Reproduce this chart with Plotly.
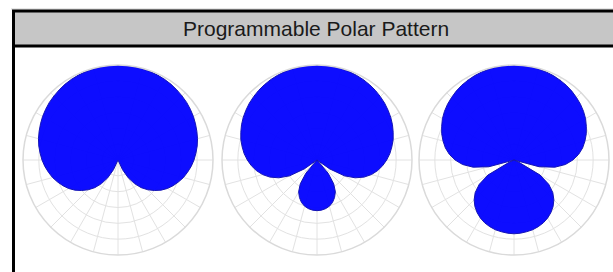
import plotly.graph_objects as go

W, H = 613, 272

# Half-pattern angles (degrees from front, symmetric patterns)
angles_half = [0, 5, 10, 15, 20, 25, 30, 35, 40, 45, 50, 55, 60, 65, 70, 75, 80, 85, 90,
               95, 100, 105, 110, 115, 120, 125, 130, 135, 140, 145, 150, 155, 160, 165, 170, 175, 180]

# Level in dB (floor -30 dB)
cardioid_db = [0.0, -0.0, -0.1, -0.2, -0.3, -0.4, -0.6, -0.8, -1.1, -1.4, -1.7, -2.1, -2.5, -3.0, -3.5, -4.0, -4.6, -5.3, -6.0,
               -6.8, -7.7, -8.6, -9.7, -10.8, -12.0, -13.4, -15.0, -16.7, -18.6, -20.9, -23.5, -26.6, -30.0, -30.0, -30.0, -30.0, -30.0]
supercardioid_db = [0.0, -0.0, -0.1, -0.2, -0.3, -0.5, -0.7, -1.0, -1.3, -1.7, -2.1, -2.6, -3.1, -3.7, -4.4, -5.1, -6.0, -6.9, -8.0,
                    -9.2, -10.6, -12.2, -14.2, -16.7, -20.0, -25.1, -30.0, -30.0, -24.5, -20.8, -18.4, -16.9, -15.7, -14.9, -14.4, -14.1, -14.0]
hypercardioid_db = [0.0, -0.0, -0.1, -0.2, -0.4, -0.6, -0.9, -1.2, -1.6, -2.1, -2.6, -3.2, -3.9, -4.8, -5.7, -6.8, -8.0, -9.5, -11.4,
                    -13.7, -16.9, -21.8, -30.0, -28.3, -20.5, -16.6, -14.0, -12.2, -10.8, -9.7, -8.8, -8.1, -7.6, -7.2, -7.0, -6.8, -6.7]

patterns = [cardioid_db, supercardioid_db, hypercardioid_db]
title_text = "Programmable Polar Pattern"

def full(half_vals):
    return half_vals + half_vals[-2::-1]

theta_full = angles_half + [360 - a for a in angles_half[-2::-1]]

# Layout geometry (pixels)
centers_x = [118, 317, 514]
center_y = 160
radius = 95

fig = go.Figure()
layout_polars = {}
for i, vals in enumerate(patterns):
    name = "polar" if i == 0 else f"polar{i+1}"
    fig.add_trace(go.Scatterpolar(
        r=full(vals), theta=theta_full, mode="lines", fill="toself",
        fillcolor="rgba(0,0,255,0.95)", line=dict(color="#1414b4", width=1),
        subplot=name, showlegend=False, hoverinfo="skip"))
    cx = centers_x[i]
    layout_polars[name] = dict(
        domain=dict(x=[(cx - radius) / W, (cx + radius) / W],
                    y=[1 - (center_y + radius) / H, 1 - (center_y - radius) / H]),
        bgcolor="white",
        radialaxis=dict(range=[-30, 0], dtick=5, showticklabels=False, ticks="",
                        showline=False, gridcolor="#e2e2e2", gridwidth=1.3),
        angularaxis=dict(rotation=90, direction="clockwise", dtick=15,
                         showticklabels=False, ticks="", gridcolor="#e2e2e2", gridwidth=1.3,
                         linecolor="#dadada", linewidth=1.5),
    )

fig.update_layout(width=W, height=H, margin=dict(l=0, r=0, t=0, b=0),
                  paper_bgcolor="white", plot_bgcolor="white", **layout_polars)

def px(x):
    return x / W

def py(y):
    return 1 - y / H

fig.add_shape(type="line", xref="paper", yref="paper", x0=px(11), x1=1.1, y0=py(9), y1=py(9),
              line=dict(color="#cfcfcf", width=1), layer="below")
fig.add_shape(type="rect", xref="paper", yref="paper", x0=px(13.5), x1=1.1, y0=py(46), y1=py(11),
              fillcolor="#c6c6c6", line=dict(color="black", width=3), layer="above")
fig.add_shape(type="line", xref="paper", yref="paper", x0=px(13.5), x1=px(13.5), y0=py(11), y1=-0.1,
              line=dict(color="black", width=3))
fig.add_annotation(xref="paper", yref="paper", x=px(316), y=py(28.5), text=title_text,
                   showarrow=False, xanchor="center", yanchor="middle",
                   font=dict(family="Liberation Sans, Arial", size=21, color="#1a1a1a"))

fig.write_html("out.html", config={"displayModeBar": False},
               post_script="document.body.style.margin='0';document.body.style.padding='0';")
